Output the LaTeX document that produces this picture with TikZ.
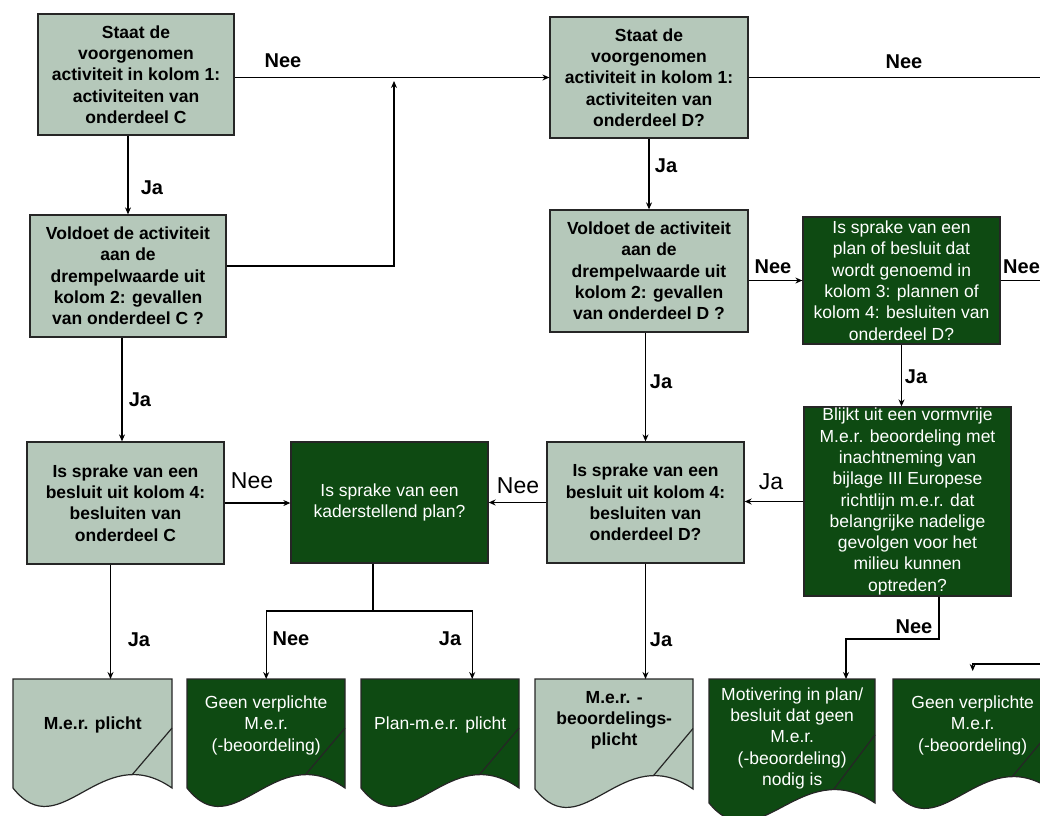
\documentclass[tikz,border=0pt]{standalone}
\usepackage{fontspec}
\setmainfont{Liberation Sans}
\usetikzlibrary{arrows.meta}

\definecolor{lichtgroen}{RGB}{181,200,186}
\definecolor{donkergroen}{RGB}{14,74,18}

\tikzset{
  vak/.style={rectangle, draw=black!85, line width=1.3pt, minimum width=197pt,
    minimum height=121pt, inner sep=0pt, align=center},
  lichtvak/.style={vak, fill=lichtgroen, font=\fontsize{17.5}{21.3}\selectfont\bfseries},
  donkervak/.style={vak, fill=donkergroen, text=white, font=\fontsize{17.5}{21.3}\selectfont},
  licht/.style={fill=lichtgroen},
  donker/.style={fill=donkergroen},
  lichttekst/.style={text=black, align=center, inner sep=0pt, font=\fontsize{17.5}{21.3}\selectfont\bfseries},
  donkertekst/.style={text=white, align=center, inner sep=0pt, font=\fontsize{17.5}{21.3}\selectfont},
  doclijn/.style={draw=black!85, line width=1.2pt},
  pijl/.style={-{Stealth[length=7pt,width=6pt]}, line width=1.1pt},
  lijn/.style={line width=1.1pt},
  jn/.style={inner sep=0pt, font=\fontsize{20}{20}\selectfont\bfseries},
  jngroot/.style={inner sep=0pt, font=\fontsize{23}{23}\selectfont},
}

% #1 naam, #2 links, #3 breedte, #4 boven, #5 onder, #6 tekstmidden, #7 licht/donker, #8 tekst
\newcommand{\papier}[8]{%
  \draw[doclijn,#7] (#2,#4) -- ++(#3,0) -- (#2+#3,#5)
    .. controls (#2+0.55*#3,#5-50) and (#2+0.3*#3,#5+60) .. (#2,#5) -- cycle;
  \draw[doclijn] (#2+#3,#4+0.45*#5-0.45*#4) -- (#2+0.75*#3,#5-13.4);
  \node[#7tekst, minimum width=#3pt, minimum height={2*(#6-#4)*1pt}, anchor=north west] (#1) at (#2,#4) {#8};
}

\begin{document}
\begin{tikzpicture}[x=1pt,y=-1pt]
  \clip (0,0) rectangle (1040,815);

  % vragen
  \node[lichtvak, minimum width=196pt] (A) at (136,74.5) {Staat de\\voorgenomen\\activiteit in kolom 1:\\activiteiten van\\onderdeel C};
  \node[lichtvak, minimum width=196pt, minimum height=122pt] (B) at (128,276) {Voldoet de activiteit\\aan de\\drempelwaarde uit\\kolom 2: gevallen\\van onderdeel C ?};
  \node[lichtvak, minimum height=122pt] (C) at (125.5,503) {Is sprake van een\\besluit uit kolom 4:\\besluiten van\\onderdeel C};
  \node[lichtvak, minimum width=198pt] (D) at (649,77.5) {Staat de\\voorgenomen\\activiteit in kolom 1:\\activiteiten van\\onderdeel D?};
  \node[lichtvak, minimum width=198pt, minimum height=122pt] (E) at (649,271) {Voldoet de activiteit\\aan de\\drempelwaarde uit\\kolom 2: gevallen\\van onderdeel D ?};
  \node[donkervak, minimum height=127pt] (F) at (901.5,280.5) {Is sprake van een\\plan of besluit dat\\wordt genoemd in\\kolom 3: plannen of\\kolom 4: besluiten van\\onderdeel D?};
  \node[donkervak, minimum width=207pt, minimum height=189pt] (G) at (907.5,501.5) {Blijkt uit een vormvrije\\M.e.r. beoordeling met\\inachtneming van\\bijlage III Europese\\richtlijn m.e.r. dat\\belangrijke nadelige\\gevolgen voor het\\milieu kunnen\\optreden?};
  \node[lichtvak] (H) at (645.5,502.5) {Is sprake van een\\besluit uit kolom 4:\\besluiten van\\onderdeel D?};
  \node[donkervak] (I) at (389.5,502.5) {Is sprake van een\\kaderstellend plan?};

  % uitkomsten
  \papier{d1}{13}{159}{679}{788}{725}{licht}{M.e.r. plicht}
  \papier{d2}{187}{158}{679}{788}{725}{donker}{Geen verplichte\\M.e.r.\\(-beoordeling)}
  \papier{d3}{361}{158}{679}{788}{725}{donker}{Plan-m.e.r. plicht}
  \papier{d4}{535}{158}{679}{789}{720}{licht}{M.e.r. -\\beoordelings-\\plicht}
  \papier{d5}{709}{166}{679}{803}{738}{donker}{Motivering in plan/\\besluit dat geen\\M.e.r.\\(-beoordeling)\\nodig is}
  \papier{d6}{893}{159}{679}{790}{725}{donker}{Geen verplichte\\M.e.r.\\(-beoordeling)}

  % hulppunten
  \coordinate (samen) at (394,81);
  \coordinate (uitD) at (1040,77.5);
  \coordinate (uitF) at (1040,280.5);
  \coordinate (splits) at (373,611);
  \coordinate (knikG) at (846,639);
  \coordinate (inD6) at (1040,664);

  % verbindingen
  \draw[pijl] (A.east |- D.west) -- (D.west);
  \draw[pijl] (A.south -| B.north) -- (B.north);
  \draw[pijl] ([yshift=10pt]B.east) -| (samen);
  \draw[pijl] ([xshift=-6pt]B.south) -- ([xshift=-6pt]B.south |- C.north);
  \draw[pijl] (C.east) -- (C.east -| I.west);
  \draw[pijl] ([xshift=-15pt]C.south) -- ([xshift=-15pt]C.south |- d1.north);
  \draw[lijn] (D.east) -- (uitD);
  \draw[pijl] (D.south) -- (E.north);
  \draw[pijl] (E.east |- F.west) -- (F.west);
  \draw[pijl] (E.south -| H.north) -- (H.north);
  \draw[lijn] (F.east) -- (uitF);
  \draw[pijl] (F.south) -- (F.south |- G.north);
  \draw[pijl] (G.west) -- (G.west -| H.east);
  \draw[pijl] ([xshift=31.5pt]G.south) |- (knikG) -- (knikG |- d5.north);
  \draw[pijl] (H.west) -- (H.west -| I.east);
  \draw[pijl] (H.south) -- (H.south |- d4.north);
  \draw[lijn] (I.south -| splits) -- (splits);
  \draw[pijl] (splits) -| (d2.north);
  \draw[pijl] (splits) -| ([xshift=32pt]d3.north);
  \draw[pijl] (inD6) -| ([yshift=8pt]d6.north);

  % labels
  \node[jn] (neeAD) at (283,61) {Nee};
  \node[jn] (jaAB) at (152,188) {Ja};
  \node[jn] (jaBC) at (140,400) {Ja};
  \node[jngroot] (neeCI) at (252,481) {Nee};
  \node[jngroot] (neeHI) at (518,486) {Nee};
  \node[jngroot] (jaGH) at (771,482) {Ja};
  \node[jn] (jaDE) at (666,166) {Ja};
  \node[jn] (neeDuit) at (904,62) {Nee};
  \node[jn] (neeEF) at (773,267) {Nee};
  \node[jn, anchor=west] (neeFuit) at (1003,267) {Nee};
  \node[jn] (jaFG) at (916,377) {Ja};
  \node[jn] (jaEH) at (661,382) {Ja};
  \node[jn] (jaC1) at (139,640) {Ja};
  \node[jn] (neeI2) at (291,639) {Nee};
  \node[jn] (jaI3) at (450,639) {Ja};
  \node[jn] (jaH4) at (661,640) {Ja};
  \node[jn] (neeG5) at (914,627) {Nee};
\end{tikzpicture}
\end{document}
